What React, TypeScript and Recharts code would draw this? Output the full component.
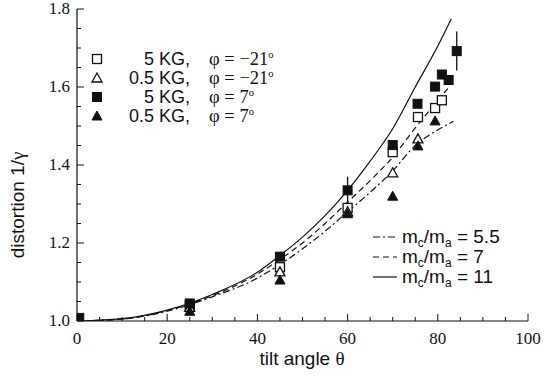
import React from 'react';
import { ComposedChart, Line, Scatter, XAxis, YAxis, ErrorBar } from 'recharts';

// ---- data ----
const xTicks = [0, 5, 10, 15, 20, 25, 30, 35, 40, 45, 50, 55, 60, 65, 70, 75, 80, 85, 90, 95, 100];
const yTicks = [1.0, 1.05, 1.1, 1.15, 1.2, 1.25, 1.3, 1.35, 1.4, 1.45, 1.5, 1.55, 1.6, 1.65, 1.7, 1.75, 1.8];

// model curves
const curve11 = [
  { x: 0, y: 1.0 }, { x: 10, y: 1.006 }, { x: 20, y: 1.028 }, { x: 30, y: 1.068 },
  { x: 40, y: 1.125 }, { x: 45, y: 1.168 }, { x: 50, y: 1.215 }, { x: 55, y: 1.27 },
  { x: 60, y: 1.335 }, { x: 65, y: 1.41 }, { x: 70, y: 1.493 }, { x: 75, y: 1.6 },
  { x: 80, y: 1.705 }, { x: 83, y: 1.775 },
];
const curve7 = [
  { x: 0, y: 1.0 }, { x: 10, y: 1.005 }, { x: 20, y: 1.027 }, { x: 30, y: 1.065 },
  { x: 40, y: 1.12 }, { x: 45, y: 1.158 }, { x: 50, y: 1.2 }, { x: 55, y: 1.25 },
  { x: 60, y: 1.305 }, { x: 65, y: 1.36 }, { x: 70, y: 1.42 }, { x: 75, y: 1.495 },
  { x: 80, y: 1.565 }, { x: 82.5, y: 1.6 },
];
const curve55 = [
  { x: 0, y: 1.0 }, { x: 10, y: 1.005 }, { x: 20, y: 1.025 }, { x: 30, y: 1.062 },
  { x: 40, y: 1.11 }, { x: 45, y: 1.145 }, { x: 50, y: 1.185 }, { x: 55, y: 1.23 },
  { x: 60, y: 1.28 }, { x: 65, y: 1.33 }, { x: 70, y: 1.385 }, { x: 75, y: 1.45 },
  { x: 80, y: 1.49 }, { x: 83.5, y: 1.512 },
];

// measurements
const openSquares = [ // 5 KG, phi = -21
  { x: 25, y: 1.04 }, { x: 45, y: 1.138 }, { x: 60, y: 1.29 }, { x: 70, y: 1.433 },
  { x: 75.6, y: 1.523 }, { x: 79.4, y: 1.546 }, { x: 80.9, y: 1.566 },
];
const openTriangles = [ // 0.5 KG, phi = -21
  { x: 25, y: 1.035 }, { x: 45, y: 1.126 }, { x: 60, y: 1.28 }, { x: 70, y: 1.38 },
  { x: 75.6, y: 1.467 },
];
const filledSquares = [ // 5 KG, phi = 7
  { x: 0.5, y: 1.008, err: 0 }, { x: 25, y: 1.045, err: 0 }, { x: 45, y: 1.165, err: 0 },
  { x: 60, y: 1.335, err: 0.035 }, { x: 70, y: 1.451, err: 0 }, { x: 75.5, y: 1.557, err: 0 },
  { x: 79.4, y: 1.601, err: 0 }, { x: 80.9, y: 1.632, err: 0 }, { x: 82.4, y: 1.618, err: 0 },
  { x: 84.2, y: 1.692, err: 0.05 },
];
const filledTriangles = [ // 0.5 KG, phi = 7
  { x: 25, y: 1.025 }, { x: 45, y: 1.105 }, { x: 60, y: 1.275 }, { x: 70, y: 1.32 },
  { x: 75.6, y: 1.449 }, { x: 79.4, y: 1.513 },
];

const legendSeries = [
  { kg: '5 KG,', phi: '\u2212' + '21', mark: 'openSquare' },
  { kg: '0.5 KG,', phi: '\u2212' + '21', mark: 'openTriangle' },
  { kg: '5 KG,', phi: '7', mark: 'filledSquare' },
  { kg: '0.5 KG,', phi: '7', mark: 'filledTriangle' },
];
const legendCurves = [
  { ratio: '5.5', dash: '7 3 2 3' },
  { ratio: '7', dash: '6 4' },
  { ratio: '11', dash: undefined as string | undefined },
];

// ---- styles ----
const SERIF = "'Liberation Serif', serif";
const SANS = "'Liberation Sans', Arial, sans-serif";
const INK = '#111';

const Marker = ({ kind, cx, cy }: { kind: string; cx: number; cy: number }) => {
  const s = 4.5;
  if (kind === 'openSquare')
    return <rect x={cx - s} y={cy - s} width={2 * s} height={2 * s} fill="#fff" stroke={INK} strokeWidth={1.3} />;
  if (kind === 'filledSquare')
    return <rect x={cx - s} y={cy - s} width={2 * s} height={2 * s} fill={INK} stroke={INK} strokeWidth={1} />;
  const pts = `${cx},${cy - 5} ${cx + 5},${cy + 4} ${cx - 5},${cy + 4}`;
  if (kind === 'openTriangle') return <polygon points={pts} fill="#fff" stroke={INK} strokeWidth={1.3} />;
  return <polygon points={pts} fill={INK} stroke={INK} strokeWidth={1} />;
};

const shapeOf = (kind: string) => (p: any) => <Marker kind={kind} cx={p.cx} cy={p.cy} />;

const serifStyle = { fontFamily: SERIF } as React.CSSProperties;
const sansStyle = { fontFamily: SANS } as React.CSSProperties;

const XTickBottom = (p: any) => {
  const v = p.payload.value;
  const major = v % 20 === 0;
  return (
    <g>
      <line x1={p.x} y1={p.y} x2={p.x} y2={p.y - (major ? 7 : 4)} stroke={INK} strokeWidth={1} />
      {major && (
        <text x={p.x} y={p.y + 23} textAnchor="middle" style={serifStyle} fontSize={17} fill={INK}>
          {v}
        </text>
      )}
    </g>
  );
};
const XTickTop = (p: any) => {
  const v = p.payload.value;
  const major = v % 20 === 0;
  return <line x1={p.x} y1={p.y} x2={p.x} y2={p.y + (major ? 7 : 4)} stroke={INK} strokeWidth={1} />;
};
const YTickLeft = (p: any) => {
  const v = p.payload.value;
  const major = Math.round(v * 100) % 20 === 0;
  return (
    <g>
      <line x1={p.x} y1={p.y} x2={p.x + (major ? 7 : 4)} y2={p.y} stroke={INK} strokeWidth={1} />
      {major && (
        <text x={p.x - 7} y={p.y + 5} textAnchor="end" style={serifStyle} fontSize={17} fill={INK}>
          {v.toFixed(1)}
        </text>
      )}
    </g>
  );
};
const YTickRight = (p: any) => {
  const v = p.payload.value;
  const major = Math.round(v * 100) % 20 === 0;
  return <line x1={p.x} y1={p.y} x2={p.x - (major ? 7 : 4)} y2={p.y} stroke={INK} strokeWidth={1} />;
};

export default function App() {
  return (
    <div style={{ position: 'absolute', left: 0, top: 0, width: 550, height: 379, background: '#fff' }}>
      <ComposedChart width={550} height={379} margin={{ top: 9, right: 22, bottom: 18, left: 17 }}>
        <XAxis xAxisId="b" dataKey="x" type="number" domain={[0, 100]} ticks={xTicks} interval={0}
          height={40} tickSize={0} tickMargin={0} tickLine={false} tick={XTickBottom}
          axisLine={{ stroke: INK, strokeWidth: 1.2 }} allowDataOverflow />
        <XAxis xAxisId="t" orientation="top" dataKey="x" type="number" domain={[0, 100]} ticks={xTicks} interval={0}
          height={0} tickSize={0} tickMargin={0} tickLine={false} tick={XTickTop}
          axisLine={{ stroke: INK, strokeWidth: 1.2 }} allowDataOverflow />
        <YAxis yAxisId="l" type="number" domain={[1.0, 1.8]} ticks={yTicks} interval={0}
          width={60} tickSize={0} tickMargin={0} tickLine={false} tick={YTickLeft}
          axisLine={{ stroke: INK, strokeWidth: 1.2 }} allowDataOverflow />
        <YAxis yAxisId="r" orientation="right" type="number" domain={[1.0, 1.8]} ticks={yTicks} interval={0}
          width={0} tickSize={0} tickMargin={0} tickLine={false} tick={YTickRight}
          axisLine={{ stroke: INK, strokeWidth: 1.2 }} allowDataOverflow />

        <Line xAxisId="b" yAxisId="l" data={curve11} dataKey="y" type="monotone" stroke={INK} strokeWidth={1.2}
          dot={false} activeDot={false} isAnimationActive={false} />
        <Line xAxisId="b" yAxisId="l" data={curve7} dataKey="y" type="monotone" stroke={INK} strokeWidth={1.2}
          strokeDasharray="6 4" dot={false} activeDot={false} isAnimationActive={false} />
        <Line xAxisId="b" yAxisId="l" data={curve55} dataKey="y" type="monotone" stroke={INK} strokeWidth={1.2}
          strokeDasharray="7 3 2 3" dot={false} activeDot={false} isAnimationActive={false} />

        <Scatter xAxisId="b" yAxisId="l" data={openSquares} dataKey="y" shape={shapeOf('openSquare')} isAnimationActive={false} />
        <Scatter xAxisId="b" yAxisId="l" data={openTriangles} dataKey="y" shape={shapeOf('openTriangle')} isAnimationActive={false} />
        <Scatter xAxisId="b" yAxisId="l" data={filledTriangles} dataKey="y" shape={shapeOf('filledTriangle')} isAnimationActive={false} />
        <Scatter xAxisId="b" yAxisId="l" data={filledSquares} dataKey="y" shape={shapeOf('filledSquare')} isAnimationActive={false}>
          <ErrorBar dataKey="err" direction="y" width={0} stroke={INK} strokeWidth={1.3} isAnimationActive={false} />
        </Scatter>
      </ComposedChart>

      <svg width={550} height={379} style={{ position: 'absolute', left: 0, top: 0, pointerEvents: 'none' }}>
        <text transform="translate(24,205) rotate(-90)" textAnchor="middle" style={sansStyle} fontSize={19} fill={INK}>
          distortion 1/<tspan style={serifStyle}>γ</tspan>
        </text>
        <text x={302} y={365} textAnchor="middle" style={sansStyle} fontSize={19} fill={INK}>
          tilt angle <tspan style={serifStyle}>θ</tspan>
        </text>

        {legendSeries.map((s, i) => {
          const cy = 59 + i * 19;
          return (
            <g key={i}>
              <Marker kind={s.mark} cx={97} cy={cy} />
              <text x={190} y={cy + 6} textAnchor="end" style={sansStyle} fontSize={18} fill={INK}>{s.kg}</text>
              <text x={209} y={cy + 6} style={serifStyle} fontSize={18.5} fill={INK}>
                φ = {s.phi}<tspan fontSize={10.5} dy={-7}>o</tspan>
              </text>
            </g>
          );
        })}

        {legendCurves.map((c, i) => {
          const cy = 237 + i * 20;
          return (
            <g key={i}>
              <line x1={373} y1={cy} x2={397} y2={cy} stroke={INK} strokeWidth={1.2} strokeDasharray={c.dash} />
              <text x={402} y={cy + 6} style={sansStyle} fontSize={19} fill={INK}>
                m<tspan fontSize={12} dy={4}>c</tspan><tspan dy={-4}>/m</tspan><tspan fontSize={12} dy={4}>a</tspan>
                <tspan dy={-4}> = {c.ratio}</tspan>
              </text>
            </g>
          );
        })}
      </svg>
    </div>
  );
}
